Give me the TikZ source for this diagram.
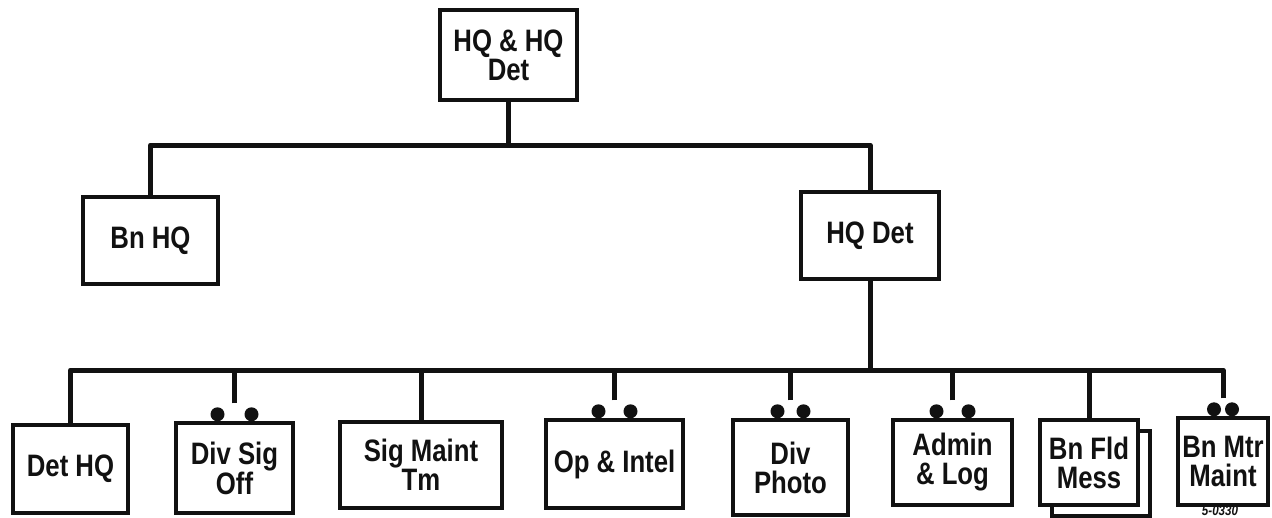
\documentclass[tikz,border=0pt]{standalone}
\usepackage{fontspec}
\setmainfont{Liberation Sans}[FakeStretch=0.83]
\usetikzlibrary{positioning,shadows}
\definecolor{Ink}{HTML}{111111}
\tikzset{
  orgBox/.style={rectangle,draw=Ink,line width=3.4pt,fill=white,text=Ink,align=center,
    font=\bfseries\fontsize{31}{29}\selectfont,inner sep=2pt},
  orgStack/.style={orgBox,copy shadow={shadow xshift=12pt,shadow yshift=-11pt,fill=white,draw=Ink}},
  orgLink/.style={draw=Ink,line width=5pt,line join=round},
  orgDot/.style={circle,fill=Ink,minimum size=14pt,inner sep=0pt},
  figTag/.style={font=\bfseries\itshape\fontsize{14}{14}\selectfont,text=Ink,inner sep=0pt}
}

\begin{document}
\begin{tikzpicture}[x=1pt,y=-1pt]
  \useasboundingbox (0,0) rectangle (1272,517);

  % Command level
  \node[orgBox,minimum width=137pt,minimum height=90pt] (hqhq) at (508.5,55) {HQ \& HQ\\Det};
  \node[orgBox,minimum width=135pt,minimum height=87pt] (bnhq) at (150.5,240.5) {Bn HQ};
  \node[orgBox,minimum width=138pt,minimum height=87pt] (hqdet) at (870,235.5) {HQ Det};
  \coordinate (topbus) at (508.5,145);
  \coordinate (lowbus) at (870,370);
  \draw[orgLink] (hqhq.south) -- (topbus);
  \draw[orgLink] (bnhq.north) |- (topbus) -| (hqdet.north);
  \draw[orgLink] (hqdet.south) -- (lowbus);

  % Sections of the detachment
  \node[orgBox,minimum width=115pt,minimum height=88pt] (dethq) at (70.5,469) {Det HQ};
  \node[orgBox,minimum width=117pt,minimum height=90pt] (divsig) at (234.5,468) {Div Sig\\Off};
  \node[orgBox,minimum width=162pt,minimum height=86pt] (sigmaint) at (421,465) {Sig Maint\\Tm};
  \node[orgBox,minimum width=137pt,minimum height=88pt] (opintel) at (614.5,464) {Op \& Intel};
  \node[orgBox,minimum width=115pt,minimum height=95pt] (divphoto) at (790.5,467.5) {Div\\Photo};
  \node[orgBox,minimum width=119pt,minimum height=85pt] (admin) at (952.5,462.5) {Admin\\\& Log};
  \node[orgStack,minimum width=98pt,minimum height=85pt] (bnfld) at (1089,462.5) {Bn Fld\\Mess};
  \node[orgBox,minimum width=90pt,minimum height=87pt] (bnmtr) at (1223,461.5) {Bn Mtr\\Maint};

  % Attached elements: split stems with dots
  \foreach \b/\d in {divsig/17,opintel/16,divphoto/13,admin/16,bnmtr/9}{
    \coordinate (\b-tap) at ([yshift=18pt]\b.north);
    \node[orgDot] (\b-dl) at ([xshift=-\d pt,yshift=7pt]\b.north) {};
    \node[orgDot] (\b-dr) at ([xshift=\d pt,yshift=7pt]\b.north) {};
    \draw[orgLink] (\b-tap) -- (\b-tap |- lowbus);
  }
  \draw[orgLink] (dethq.north) |- (lowbus) -| (bnmtr-tap);
  \draw[orgLink] (sigmaint.north) -- (sigmaint.north |- lowbus);
  \draw[orgLink] (bnfld.north) -- (bnfld.north |- lowbus);

  \node[figTag] (tag) at (1220,511) {5-0330};
\end{tikzpicture}
\end{document}
